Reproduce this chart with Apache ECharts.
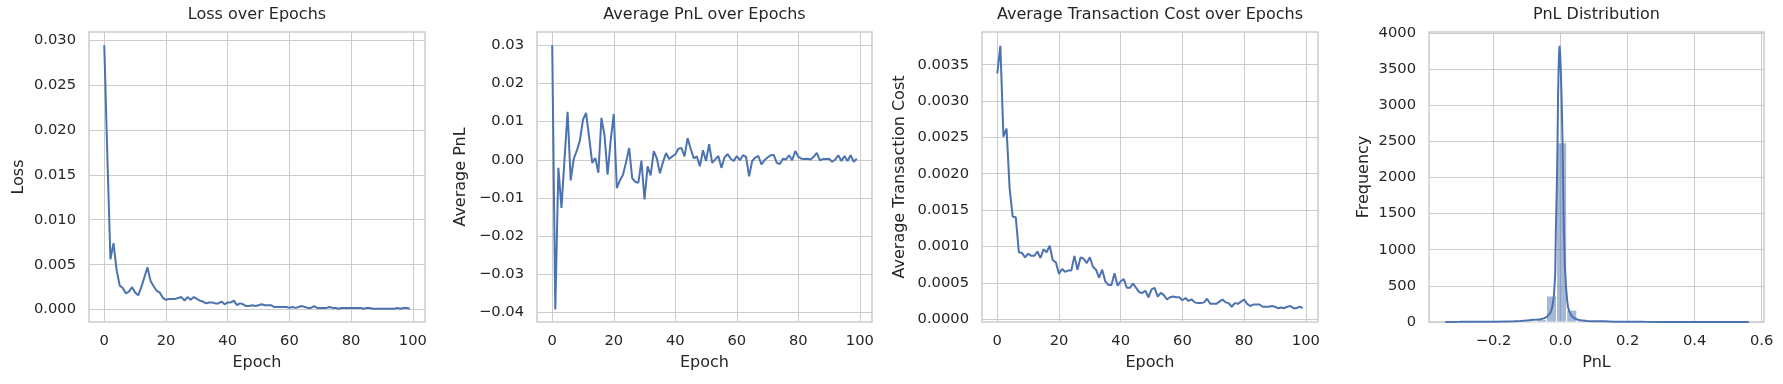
<!DOCTYPE html>
<html>
<head>
<meta charset="utf-8">
<script src="https://cdn.jsdelivr.net/npm/echarts@6/dist/echarts.min.js"></script>
<style>
html, body { margin: 0; padding: 0; background: #fff; }
#chart { width: 1783px; height: 384px; }
</style>
</head>
<body>
<div id="chart"></div>
<script>
// values (one per epoch, 0..99)
var lossValues = [
  0.0294, 0.0170, 0.0056, 0.0074, 0.0044, 0.0027, 0.0024, 0.0018, 0.0020, 0.0025,
  0.0019, 0.0016, 0.0025, 0.0036, 0.0047, 0.0032, 0.0026, 0.0021, 0.0019, 0.0013,
  0.0011, 0.0012, 0.0012, 0.0012, 0.0013, 0.0014, 0.0010, 0.0014, 0.0011, 0.0014,
  0.0012, 0.0010, 0.0009, 0.0007, 0.0008, 0.0008, 0.0007, 0.0007, 0.0009, 0.0006,
  0.0008, 0.0008, 0.0010, 0.0005, 0.0007, 0.0006, 0.0004, 0.0004, 0.0005, 0.0004,
  0.0005, 0.0006, 0.0005, 0.0005, 0.0005, 0.0003, 0.0003, 0.0003, 0.0003, 0.0003,
  0.0002, 0.0003, 0.0002, 0.0003, 0.0004, 0.0003, 0.0002, 0.0002, 0.0004, 0.0002,
  0.0002, 0.0002, 0.0002, 0.0003, 0.0002, 0.0002, 0.0001, 0.0002, 0.0002, 0.0002,
  0.0002, 0.0002, 0.0002, 0.0002, 0.0001, 0.0002, 0.0002, 0.0001, 0.0001, 0.0001,
  0.0001, 0.0001, 0.0001, 0.0001, 0.0001, 0.0002, 0.0001, 0.0002, 0.0002, 0.0001
];
var pnlValues = [
  0.0300, -0.0392, -0.0021, -0.0126, 0.0003, 0.0126, -0.0054, 0.0003, 0.0024, 0.0051,
  0.0105, 0.0123, 0.0059, -0.0008, 0.0005, -0.0034, 0.0110, 0.0064, -0.0039, 0.0051,
  0.0120, -0.0074, -0.0054, -0.0039, -0.0006, 0.0031, -0.0048, -0.0058, -0.0060, -0.0002,
  -0.0104, -0.0017, -0.0041, 0.0023, 0.0004, -0.0035, -0.0006, 0.0018, 0.0002, 0.0009,
  0.0014, 0.0029, 0.0031, 0.0009, 0.0057, 0.0029, 0.0004, 0.0009, -0.0017, 0.0025,
  -0.0003, 0.0041, -0.0008, 0.0001, 0.0010, -0.0021, 0.0006, 0.0015, 0.0003, -0.0003,
  0.0010, -0.0001, 0.0012, 0.0008, -0.0043, -0.0003, 0.0006, 0.0010, -0.0012, -0.0001,
  0.0006, 0.0012, 0.0013, -0.0008, -0.0011, 0.0003, 0.0001, 0.0012, -0.0001, 0.0023,
  0.0008, 0.0003, 0.0002, 0.0003, 0.0001, 0.0008, 0.0018, -0.0001, 0.0002, 0.0002,
  0.0003, -0.0005, 0.0001, 0.0012, -0.0003, 0.0010, -0.0003, 0.0012, -0.0005, 0.0003
];
var costValues = [
  0.00338, 0.00376, 0.00251, 0.00262, 0.00180, 0.00141, 0.00140, 0.00092, 0.00091, 0.00085,
  0.00090, 0.00087, 0.00087, 0.00093, 0.00084, 0.00096, 0.00092, 0.00101, 0.00081, 0.00078,
  0.00062, 0.00069, 0.00065, 0.00067, 0.00067, 0.00087, 0.00068, 0.00085, 0.00083, 0.00077,
  0.00085, 0.00072, 0.00068, 0.00057, 0.00068, 0.00052, 0.00047, 0.00047, 0.00063, 0.00046,
  0.00052, 0.00055, 0.00043, 0.00043, 0.00049, 0.00043, 0.00037, 0.00036, 0.00039, 0.00030,
  0.00041, 0.00043, 0.00031, 0.00036, 0.00033, 0.00027, 0.00030, 0.00031, 0.00030, 0.00030,
  0.00026, 0.00029, 0.00025, 0.00027, 0.00023, 0.00022, 0.00022, 0.00023, 0.00028, 0.00021,
  0.00021, 0.00021, 0.00024, 0.00027, 0.00023, 0.00022, 0.00017, 0.00022, 0.00021, 0.00024,
  0.00027, 0.00021, 0.00018, 0.00020, 0.00020, 0.00020, 0.00017, 0.00017, 0.00017, 0.00018,
  0.00017, 0.00015, 0.00016, 0.00015, 0.00017, 0.00018, 0.00015, 0.00015, 0.00017, 0.00015
];

// histogram of PnL: 30 bins starting at histStart
var histStart = -0.344;
var histBinWidth = 0.0302;
var histCounts = [
  2, 0, 4, 1, 1, 2, 12, 6, 15, 35,
  360, 2480, 165, 18, 10, 12, 3, 2, 4, 1,
  0, 1, 0, 2, 0, 0, 1, 0, 0, 2
];
// kde curve drawn over the histogram
var kdeX = [-0.344, -0.30, -0.27, -0.24, -0.20, -0.16, -0.14, -0.12, -0.10, -0.08,
  -0.07, -0.06, -0.05, -0.04, -0.035, -0.03, -0.025, -0.02, -0.016, -0.014,
  -0.011, -0.009, -0.0075, -0.005, -0.003, -0.001, 0.001, 0.003, 0.006, 0.008,
  0.010, 0.013, 0.017, 0.020, 0.022, 0.026, 0.030, 0.034, 0.040, 0.050,
  0.060, 0.080, 0.10, 0.13, 0.16, 0.20, 0.25, 0.30, 0.40, 0.50, 0.562];
var kdeY = [1, 2, 4, 2, 2, 8, 9, 14, 22, 30,
  33, 38, 50, 75, 95, 130, 200, 350, 650, 1250,
  1900, 2480, 3120, 3650, 3820, 3700, 3450, 3120, 2480, 1800,
  1270, 750, 440, 290, 210, 150, 110, 80, 55, 35,
  24, 14, 11, 9, 5, 4, 2, 1, 1, 1, 1];

// ticks
var epochTicks = [0, 20, 40, 60, 80, 100];
var lossTicks = [0, 0.005, 0.01, 0.015, 0.02, 0.025, 0.03];
var pnlTicks = [-0.04, -0.03, -0.02, -0.01, 0, 0.01, 0.02, 0.03];
var costTicks = [0, 0.0005, 0.001, 0.0015, 0.002, 0.0025, 0.003, 0.0035];
var freqTicks = [0, 500, 1000, 1500, 2000, 2500, 3000, 3500, 4000];
var pnlDistTicks = [-0.2, 0, 0.2, 0.4, 0.6];

var textColor = '#262626';
var gridColor = '#cccccc';
var lineColor = '#4c72b0';
var font = 'DejaVu Sans';

// plot boxes (px)
var boxes = [
  {left: 89, top: 32, width: 336, height: 290},
  {left: 537, top: 32, width: 335, height: 290},
  {left: 982, top: 32, width: 336, height: 290},
  {left: 1429, top: 32, width: 335, height: 290}
];
var titles = ['Loss over Epochs', 'Average PnL over Epochs',
  'Average Transaction Cost over Epochs', 'PnL Distribution'];

const fmt = (dec) => (v) => v.toFixed(dec).replace('-', '\u2212');

const makeAxis = (gridIndex, min, max, ticks, dec, name, gap, isY) => ({
  type: 'value',
  gridIndex: gridIndex,
  min: min,
  max: max,
  name: name,
  nameLocation: 'middle',
  nameGap: gap,
  nameTextStyle: {fontSize: 16, color: textColor, fontFamily: font},
  axisLine: {show: false},
  axisTick: {show: false, customValues: ticks},
  axisLabel: {
    customValues: ticks,
    formatter: fmt(dec),
    margin: isY ? 13 : 12,
    fontSize: 14.7,
    color: textColor,
    fontFamily: font
  },
  splitLine: {show: true, lineStyle: {color: gridColor, width: 1}}
});

const lineSeries = (idx, values) => ({
  type: 'line',
  xAxisIndex: idx,
  yAxisIndex: idx,
  showSymbol: false,
  lineStyle: {color: lineColor, width: 2},
  data: values.map((v, i) => [i, v])
});

// histogram bars as [x0, x1, count]
var histData = histCounts.map((c, i) => [histStart + i * histBinWidth, histStart + (i + 1) * histBinWidth, c]);

const option = {
  animation: false,
  backgroundColor: '#ffffff',
  title: titles.map((t, i) => ({
    text: t,
    left: boxes[i].left + boxes[i].width / 2 - 5,
    top: 2,
    textAlign: 'center',
    textStyle: {fontSize: 16, fontWeight: 'normal', color: textColor, fontFamily: font}
  })),
  grid: boxes.map((b) => ({
    left: b.left, top: b.top, width: b.width, height: b.height,
    show: true, borderColor: gridColor, borderWidth: 1.5, backgroundColor: '#fff'
  })),
  xAxis: [
    makeAxis(0, -4.95, 103.95, epochTicks, 0, 'Epoch', 33, false),
    makeAxis(1, -4.95, 103.95, epochTicks, 0, 'Epoch', 33, false),
    makeAxis(2, -4.95, 103.95, epochTicks, 0, 'Epoch', 33, false),
    makeAxis(3, -0.3925, 0.607, pnlDistTicks, 1, 'PnL', 33, false)
  ],
  yAxis: [
    makeAxis(0, -0.00137, 0.03087, lossTicks, 3, 'Loss', 62, true),
    makeAxis(1, -0.0425, 0.0335, pnlTicks, 2, 'Average PnL', 68, true),
    makeAxis(2, -0.00004, 0.00395, costTicks, 4, 'Average Transaction Cost', 74, true),
    makeAxis(3, 0, 4012, freqTicks, 0, 'Frequency', 57, true)
  ],
  series: [
    lineSeries(0, lossValues),
    lineSeries(1, pnlValues),
    lineSeries(2, costValues),
    {
      type: 'custom',
      xAxisIndex: 3,
      yAxisIndex: 3,
      encode: {x: [0, 1], y: 2},
      renderItem: function (params, api) {
        var p0 = api.coord([api.value(0), api.value(2)]);
        var p1 = api.coord([api.value(1), 0]);
        return {
          type: 'rect',
          shape: {x: p0[0], y: p0[1], width: p1[0] - p0[0], height: p1[1] - p0[1]},
          style: {fill: 'rgba(76,114,176,0.5)', stroke: '#ffffff', lineWidth: 1}
        };
      },
      data: histData
    },
    {
      type: 'line',
      xAxisIndex: 3,
      yAxisIndex: 3,
      showSymbol: false,
      z: 5,
      lineStyle: {color: lineColor, width: 2},
      data: kdeX.map((x, i) => [x, kdeY[i]])
    }
  ]
};

var chart = echarts.init(document.getElementById('chart'));
chart.setOption(option);
</script>
</body>
</html>
